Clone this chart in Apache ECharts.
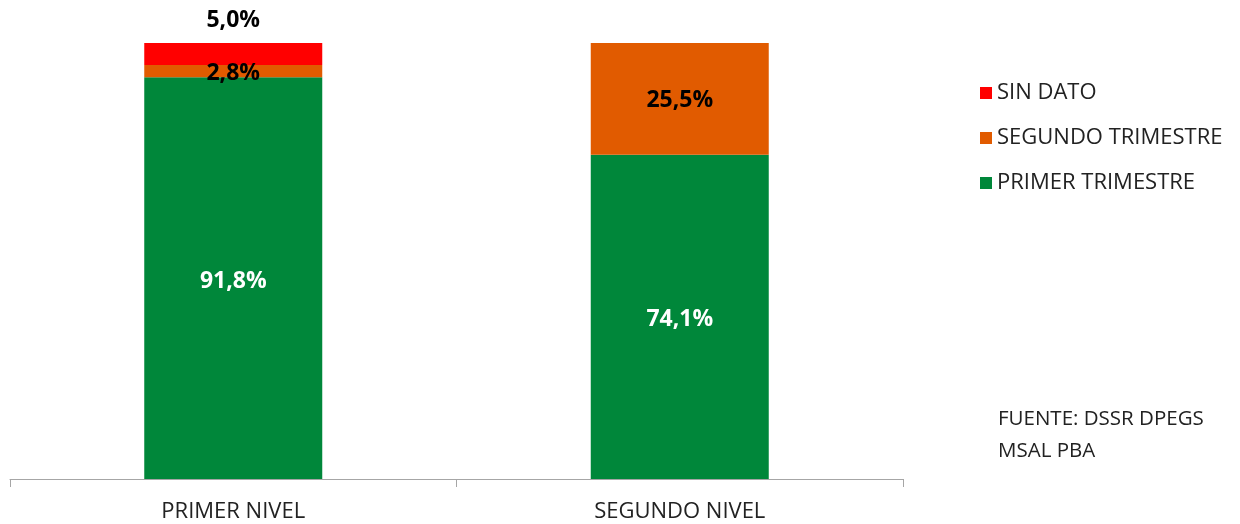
<!DOCTYPE html>
<html>
<head>
<meta charset="utf-8">
<script src="https://cdn.jsdelivr.net/npm/echarts@6/dist/echarts.min.js"></script>
<style>
  html, body { margin: 0; padding: 0; background: #ffffff; }
  #chart { width: 1240px; height: 524px; }
</style>
</head>
<body>
<div id="chart"></div>
<script>
// Distribución de controles por trimestre de inicio, según nivel de atención (%)
const categories = ['PRIMER NIVEL', 'SEGUNDO NIVEL'];
const primerTrimestre = [91.8, 74.1];
const segundoTrimestre = [2.8, 25.5];
const sinDato = [5.0, null];
const fuente = 'FUENTE: DSSR DPEGS\nMSAL PBA';

const FONT = '"Open Sans", "Liberation Sans", sans-serif';
const fmt = p => p.value.toFixed(1).replace('.', ',') + '%';

const chart = echarts.init(document.getElementById('chart'), null, { renderer: 'canvas' });

const labelBase = {
  show: true,
  fontFamily: FONT,
  fontSize: 23,
  fontWeight: 'bold',
  formatter: fmt
};

chart.setOption({
  animation: false,
  backgroundColor: '#ffffff',
  grid: { left: 10, right: 337, top: 43, bottom: 45, containLabel: false },
  legend: {
    orient: 'vertical',
    left: 975,
    top: 77,
    itemWidth: 12,
    itemHeight: 12,
    itemGap: 23,
    icon: 'rect',
    data: ['SIN DATO', 'SEGUNDO TRIMESTRE', 'PRIMER TRIMESTRE'],
    textStyle: { fontFamily: FONT, fontSize: 22, color: '#222222', lineHeight: 22, padding: [0, 0, 0, 0] }
  },
  xAxis: {
    type: 'category',
    data: categories,
    axisLine: { lineStyle: { color: '#a6a6a6', width: 1 } },
    axisTick: { show: true, length: 8, lineStyle: { color: '#a6a6a6' } },
    axisLabel: { fontFamily: FONT, fontSize: 22, color: '#222222', margin: 22 }
  },
  yAxis: {
    type: 'value',
    min: 0,
    max: 99.6,
    show: false,
    splitLine: { show: false }
  },
  series: [
    {
      name: 'PRIMER TRIMESTRE',
      type: 'bar',
      stack: 'total',
      barWidth: 178,
      data: primerTrimestre,
      itemStyle: { color: '#00873a' },
      label: Object.assign({}, labelBase, { position: 'inside', offset: [0, 3], color: '#ffffff' })
    },
    {
      name: 'SEGUNDO TRIMESTRE',
      type: 'bar',
      stack: 'total',
      barWidth: 178,
      data: segundoTrimestre,
      itemStyle: { color: '#e15b00' },
      label: Object.assign({}, labelBase, { position: 'inside', offset: [0, 2], color: '#000000' })
    },
    {
      name: 'SIN DATO',
      type: 'bar',
      stack: 'total',
      barWidth: 178,
      data: sinDato,
      itemStyle: { color: '#ff0000' },
      label: Object.assign({}, labelBase, { position: 'top', distance: 11, color: '#000000' })
    }
  ],
  graphic: [
    {
      type: 'text',
      left: 998,
      top: 403,
      style: {
        text: fuente,
        fontFamily: FONT,
        fontSize: 20.5,
        lineHeight: 32,
        fill: '#222222'
      }
    }
  ]
});
</script>
</body>
</html>
